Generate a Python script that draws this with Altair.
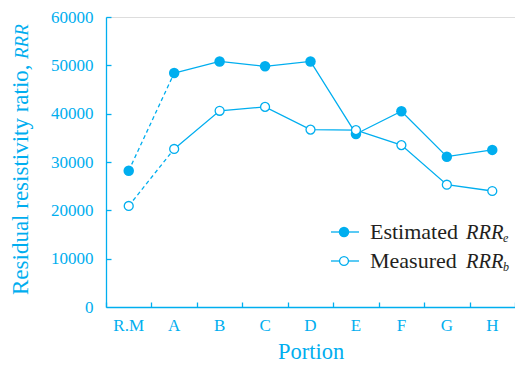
import altair as alt
import pandas as pd

portions = ["R.M", "A", "B", "C", "D", "E", "F", "G", "H"]
estimated = [28200, 48400, 50800, 49800, 50800, 35800, 40500, 31100, 32500]
measured = [20900, 32700, 40600, 41400, 36700, 36600, 33500, 25300, 24000]
y_ticks = [0, 10000, 20000, 30000, 40000, 50000, 60000]

CYAN = "#00aeef"
DARK = "#231f20"
FONT = "Liberation Serif"
W, H = 409, 290

rows = []
for p, e, m in zip(portions, estimated, measured):
    rows.append({"portion": p, "series": "Estimated", "value": e})
    rows.append({"portion": p, "series": "Measured", "value": m})
df = pd.DataFrame(rows)

xscale = alt.Scale(type="band", domain=portions, paddingInner=0, paddingOuter=0)
yscale = alt.Scale(domain=[0, 60000], nice=False, zero=True)


def X(axis=None):
    return alt.X("portion:N", sort=portions, scale=xscale, axis=axis)


def Y(axis=None):
    return alt.Y("value:Q", scale=yscale, axis=axis)


main_x_axis = alt.Axis(
    orient="bottom", title="Portion", ticks=False, domainColor=CYAN, domainWidth=1.3,
    labelFont=FONT, labelFontSize=17, labelColor=CYAN, labelPadding=10, labelAngle=0,
    titleFont=FONT, titleFontSize=22.5, titleColor=CYAN, titleFontWeight="normal",
    titlePadding=7, grid=False,
)
main_y_axis = alt.Axis(
    orient="left", title=None, ticks=False, values=y_ticks, format="d", domainColor=CYAN,
    domainWidth=1.3, labelFont=FONT, labelFontSize=17, labelColor=CYAN, labelPadding=13, grid=False,
)
tick_x_axis = alt.Axis(
    orient="top", offset=-H, title=None, labels=False, domain=False, tickBand="extent",
    tickColor=CYAN, tickWidth=1.3, tickSize=5, grid=False,
)
tick_y_axis = alt.Axis(
    orient="right", offset=-W, title=None, labels=False, domain=False, values=y_ticks[1:],
    tickColor=CYAN, tickWidth=1.3, tickSize=5, grid=False,
)

dash_part = df[df["portion"].isin(portions[:2])]
solid_part = df[df["portion"].isin(portions[1:])]

axes_layer = alt.Chart(df).mark_point(opacity=0).encode(x=X(main_x_axis), y=Y(main_y_axis))
ticks_layer = alt.Chart(df).mark_point(opacity=0).encode(x=X(tick_x_axis), y=Y(tick_y_axis))

dashed = alt.Chart(dash_part).mark_line(color=CYAN, strokeWidth=1.3, strokeDash=[4, 3]).encode(
    x=X(), y=Y(), detail="series:N")
solid = alt.Chart(solid_part).mark_line(color=CYAN, strokeWidth=1.3).encode(
    x=X(), y=Y(), detail="series:N")

est_pts = alt.Chart(df[df["series"] == "Estimated"]).mark_point(
    shape="circle", filled=True, fill=CYAN, opacity=1, size=110, strokeWidth=0).encode(x=X(), y=Y())
mea_pts = alt.Chart(df[df["series"] == "Measured"]).mark_point(
    shape="circle", filled=True, fill="white", stroke=CYAN, strokeWidth=1.3, opacity=1, size=80).encode(x=X(), y=Y())

# y-axis title (mixed roman / italic)
ytitle_df = pd.DataFrame({"t": ["Residual resistivity ratio, "], "i": ["RRR"]})
ytitle1 = alt.Chart(ytitle_df).mark_text(
    angle=270, align="left", baseline="alphabetic", font=FONT, fontSize=23, color=CYAN).encode(
    x=alt.value(-78), y=alt.value(278), text="t:N")
ytitle2 = alt.Chart(ytitle_df).mark_text(
    angle=270, align="left", baseline="alphabetic", font=FONT, fontSize=19, fontStyle="italic", color=CYAN).encode(
    x=alt.value(-78), y=alt.value(42), text="i:N")

# legend
leg_df = pd.DataFrame({"name": ["Estimated", "Measured"], "rrr": ["RRR", "RRR"], "sub": ["e", "b"]})
legend_layers = []
rows_y = [215, 244]
for k, ry in enumerate(rows_y):
    d = leg_df.iloc[[k]]
    legend_layers.append(alt.Chart(d).mark_rule(color=CYAN, strokeWidth=1.3).encode(
        x=alt.value(225), x2=alt.value(253), y=alt.value(ry)))
    if k == 0:
        legend_layers.append(alt.Chart(d).mark_point(
            shape="circle", filled=True, fill=CYAN, opacity=1, size=110, strokeWidth=0).encode(
            x=alt.value(238), y=alt.value(ry)))
    else:
        legend_layers.append(alt.Chart(d).mark_point(
            shape="circle", filled=True, fill="white", stroke=CYAN, strokeWidth=1.3, opacity=1, size=80).encode(
            x=alt.value(238), y=alt.value(ry)))
    legend_layers.append(alt.Chart(d).mark_text(
        align="left", baseline="alphabetic", font=FONT, fontSize=22, color=DARK).encode(
        x=alt.value(264), y=alt.value(ry + 7), text="name:N"))
    legend_layers.append(alt.Chart(d).mark_text(
        align="left", baseline="alphabetic", font=FONT, fontSize=20.5, fontStyle="italic", color=DARK).encode(
        x=alt.value(360), y=alt.value(ry + 7), text="rrr:N"))
    legend_layers.append(alt.Chart(d).mark_text(
        align="left", baseline="alphabetic", font=FONT, fontSize=12, fontStyle="italic", color=DARK).encode(
        x=alt.value(397), y=alt.value(ry + 10), text="sub:N"))

chart = alt.layer(
    axes_layer, ticks_layer, dashed, solid, est_pts, mea_pts, ytitle1, ytitle2, *legend_layers
).resolve_axis(x="independent", y="independent").properties(
    width=W, height=H,
    autosize=alt.AutoSizeParams(type="none"),
    padding={"left": 98, "top": 9, "right": 0, "bottom": 58},
).configure_view(stroke=None).configure(background="white")

chart.save("out.html", embed_options={"renderer": "svg", "actions": False})
